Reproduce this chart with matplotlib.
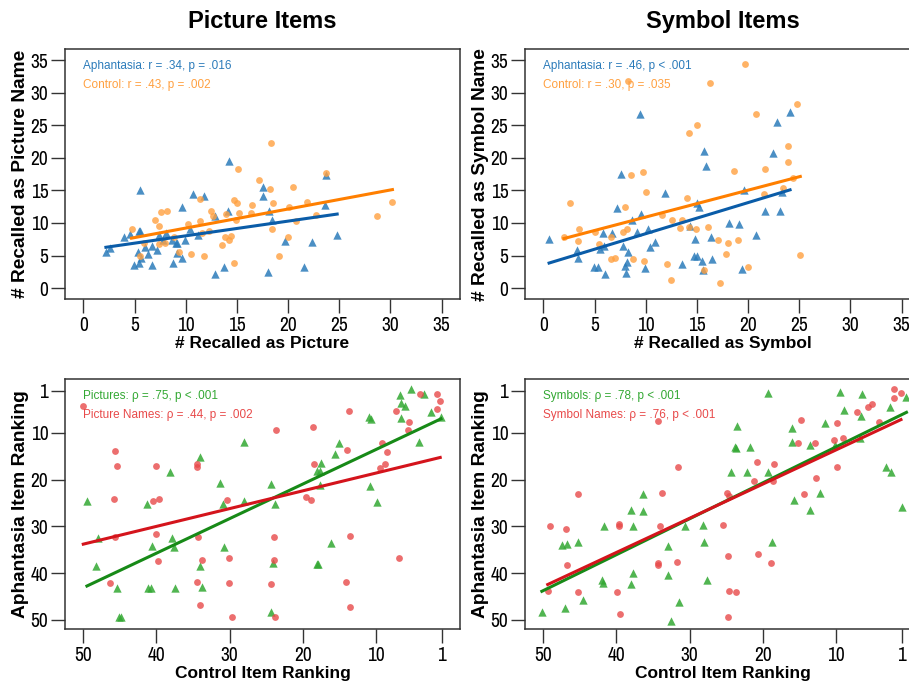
import numpy as np
import matplotlib
matplotlib.use("Agg")
import matplotlib.pyplot as plt
from matplotlib import font_manager

# ---- data ----
# Picture items: recalled as picture (x) vs recalled as picture name (y)
pic_aph_x = [2.2, 2.6, 5.5, 4.0, 4.6, 5.4, 5.5, 5.3, 5.6, 5.4, 4.9, 6.0, 6.3, 6.7, 7.2, 6.7,
             7.4, 8.1, 7.8, 8.7, 9.1, 8.8, 9.1, 9.6, 9.9, 9.6, 10.7, 10.4, 11.2, 11.8, 12.9, 12.9,
             13.7, 14.1, 14.2, 17.6, 17.6, 18.1, 18.4, 18.0, 19.7, 21.6, 22.3, 23.6, 23.7, 24.8, 9.0]
pic_aph_y = [5.6, 6.2, 15.1, 7.8, 8.3, 8.8, 8.7, 5.5, 4.6, 3.9, 3.6, 6.3, 5.2, 6.4, 5.9, 3.5,
             8.1, 8.5, 7.4, 7.4, 6.9, 3.9, 5.4, 4.6, 7.4, 12.4, 14.5, 9.0, 8.2, 14.1, 11.0, 2.2,
             3.2, 11.8, 19.5, 15.6, 14.2, 11.8, 10.5, 2.4, 7.2, 3.2, 7.1, 12.8, 17.3, 8.2, 7.0]
pic_ctl_x = [4.7, 5.5, 5.9, 7.0, 7.4, 7.6, 8.2, 7.4, 8.0, 8.9, 9.3, 10.2, 10.5, 11.4, 11.4, 11.6,
             11.8, 12.3, 12.5, 12.7, 13.5, 13.8, 13.9, 14.2, 14.4, 14.7, 14.7, 15.0, 14.9, 15.1, 15.2, 16.4,
             16.5, 17.2, 18.2, 18.3, 18.5, 18.4, 19.1, 20.0, 20.1, 20.5, 20.8, 21.9, 22.7, 23.7, 28.7, 30.2]
pic_ctl_y = [9.0, 4.9, 6.9, 10.4, 9.5, 11.7, 11.9, 6.7, 6.9, 7.8, 5.5, 9.8, 5.2, 10.3, 13.7, 8.5,
             4.9, 8.7, 11.9, 11.0, 6.6, 7.9, 11.4, 7.4, 8.0, 3.9, 13.6, 13.0, 10.4, 18.3, 11.6, 11.5,
             12.7, 16.6, 15.3, 22.3, 13.1, 9.1, 5.0, 7.8, 12.4, 15.6, 10.3, 13.2, 11.3, 17.7, 11.0, 13.2]

# Symbol items: recalled as symbol (x) vs recalled as symbol name (y)
sym_aph_x = [0.55, 3.3, 3.4, 4.9, 5.3, 6.0, 5.5, 5.8, 5.9, 6.7, 7.2, 7.6, 7.8, 8.0, 8.1, 8.2,
             8.3, 8.7, 9.1, 9.4, 9.5, 9.9, 10.2, 10.4, 10.9, 11.9, 13.5, 14.3, 14.7, 14.8, 15.0, 15.0,
             15.2, 15.5, 15.6, 15.7, 15.9, 16.4, 16.5, 18.1, 19.1, 19.4, 19.6, 20.8, 21.7, 22.4, 22.8, 23.1,
             23.3, 24.1]
sym_aph_y = [7.6, 5.8, 4.6, 3.3, 3.3, 2.1, 6.0, 8.5, 6.4, 8.5, 12.3, 17.5, 6.5, 3.4, 2.3, 4.0,
             5.5, 10.5, 8.6, 26.8, 11.4, 3.1, 9.1, 6.3, 7.1, 14.6, 3.7, 9.5, 4.9, 7.6, 4.9, 13.0,
             12.4, 4.1, 2.7, 21.0, 18.7, 7.8, 4.5, 10.0, 9.8, 3.0, 15.1, 8.2, 11.8, 20.8, 25.5, 11.8,
             14.7, 27.0]
sym_ctl_x = [2.0, 2.6, 3.4, 3.5, 5.0, 5.4, 6.6, 6.6, 7.0, 7.8, 8.0, 8.2, 8.3, 8.6, 8.8, 9.7,
             9.8, 10.0, 11.6, 12.1, 12.5, 12.6, 13.3, 13.5, 14.0, 14.2, 14.2, 14.9, 15.0, 15.7, 16.1, 16.3,
             17.1, 17.3, 17.8, 18.0, 18.6, 19.0, 19.7, 20.0, 20.8, 21.6, 21.7, 23.4, 23.9, 23.9, 24.4, 24.8,
             25.1]
sym_ctl_y = [7.8, 13.1, 7.3, 9.0, 8.6, 6.7, 7.8, 4.5, 4.6, 8.6, 12.5, 9.1, 31.9, 17.3, 4.5, 17.8,
             4.2, 14.7, 11.2, 3.7, 1.2, 10.4, 9.2, 10.5, 13.8, 23.8, 9.4, 9.1, 25.1, 2.8, 9.4, 31.5,
             7.4, 0.8, 5.3, 6.9, 18.0, 7.4, 34.4, 3.3, 26.7, 14.5, 18.3, 15.4, 21.8, 19.3, 16.9, 28.3,
             5.1]

# Ranking panels: control item ranking (x) vs aphantasia item ranking (y)
rk_pic_x = [49.5, 48.0, 48.3, 45.4, 45.1, 44.9, 41.3, 40.6, 41.2, 40.7, 38.2, 37.9, 37.6, 37.5, 34.0, 34.0,
            33.8, 31.3, 30.9, 30.7, 28.0, 28.0, 24.4, 23.8, 24.0, 24.3, 18.1, 17.9, 18.1, 17.6, 17.5, 17.7,
            16.1, 15.6, 15.1, 11.0, 10.6, 10.8, 9.8, 6.7, 6.6, 6.0, 6.6, 5.2, 4.1, 3.4, 2.5, 1.1]
rk_pic_y = [24.6, 32.4, 38.4, 43.1, 49.3, 49.4, 25.3, 34.2, 43.2, 43.2, 18.3, 32.4, 34.3, 43.2, 15.1, 38.4,
            42.9, 20.8, 25.3, 34.3, 12.0, 24.6, 20.9, 25.2, 37.8, 48.2, 38.0, 38.0, 18.1, 18.1, 16.5, 21.2,
            33.6, 14.5, 12.1, 6.6, 7.1, 21.4, 24.7, 1.9, 3.7, 4.3, 6.8, 0.7, 11.9, 1.8, 5.5, 6.6]
rk_pnm_x = [50.0, 46.4, 45.7, 45.4, 45.8, 45.7, 40.4, 39.6, 40.0, 40.1, 39.8, 34.5, 34.4, 34.3, 33.8, 34.5,
            34.1, 30.4, 30.1, 30.1, 29.6, 23.7, 23.9, 23.9, 24.4, 23.8, 19.6, 18.9, 18.6, 18.5, 14.0, 13.7,
            13.5, 14.1, 13.6, 9.1, 8.5, 8.7, 9.4, 7.3, 5.4, 5.6, 6.8, 3.9, 1.7, 1.2, 1.6]
rk_pnm_y = [4.3, 42.2, 13.9, 17.0, 24.1, 32.2, 24.5, 24.2, 17.2, 31.7, 37.3, 16.7, 17.4, 32.3, 37.2, 41.8,
            46.7, 24.4, 36.7, 42.0, 49.3, 9.4, 32.3, 37.2, 42.3, 49.4, 23.8, 24.4, 8.8, 16.7, 13.7, 5.3,
            32.0, 41.9, 47.2, 12.1, 14.0, 16.7, 17.5, 5.3, 7.6, 9.4, 36.8, 1.6, 1.7, 3.3, 4.9]
rk_sym_x = [50.2, 47.0, 47.4, 46.8, 45.2, 44.6, 41.7, 42.0, 41.8, 38.0, 37.7, 37.7, 38.0, 36.4, 36.4, 32.9,
            32.9, 32.5, 31.4, 30.6, 28.2, 28.0, 27.6, 24.3, 23.8, 23.6, 23.5, 22.1, 21.7, 19.3, 19.3, 18.8,
            16.0, 16.0, 15.7, 13.5, 13.5, 12.2, 11.5, 10.1, 9.5, 8.9, 6.4, 6.5, 6.7, 3.2, 2.5, 2.6,
            0.9, 0.35]
rk_sym_y = [48.4, 47.4, 34.0, 33.7, 33.4, 45.8, 30.0, 41.4, 42.2, 26.5, 30.0, 40.0, 42.4, 23.0, 26.8, 34.2,
            40.3, 50.2, 46.2, 30.0, 29.7, 33.4, 41.5, 18.3, 13.0, 13.3, 8.6, 18.3, 13.1, 1.5, 18.3, 33.4,
            9.0, 11.9, 24.4, 12.6, 26.4, 22.8, 8.0, 12.6, 1.2, 5.1, 1.6, 6.4, 11.2, 17.3, 18.3, 4.4,
            25.8, 2.3]
rk_snm_x = [49.4, 49.1, 46.9, 46.8, 45.2, 45.2, 39.9, 39.6, 39.6, 39.5, 34.3, 34.3, 34.3, 34.0, 33.8, 31.6,
            31.7, 25.4, 24.8, 24.9, 24.6, 24.6, 23.6, 24.8, 21.2, 20.8, 20.7, 18.9, 18.5, 18.6, 15.2, 14.8,
            14.4, 12.8, 12.7, 10.3, 9.8, 9.9, 9.0, 7.1, 5.6, 5.0, 4.1, 2.1, 2.1, 1.1]
rk_snm_y = [43.8, 30.0, 30.5, 38.2, 23.1, 44.0, 44.0, 30.0, 29.4, 48.7, 7.5, 38.2, 37.8, 30.0, 22.8, 17.3,
            37.6, 29.7, 36.4, 22.8, 23.4, 43.8, 44.0, 49.3, 20.4, 16.2, 35.8, 37.9, 16.6, 20.2, 12.1, 7.2,
            23.1, 12.1, 19.7, 11.5, 8.0, 17.3, 11.2, 5.6, 4.5, 3.9, 7.7, 0.6, 2.6, 1.4]

stat_labels = {
    "pic": ["Aphantasia: r = .34, p = .016", "Control: r = .43, p = .002"],
    "sym": ["Aphantasia: r = .46, p < .001", "Control: r = .30, p = .035"],
    "rkpic": ["Pictures: \u03c1 = .75, p < .001", "Picture Names: \u03c1 = .44, p = .002"],
    "rksym": ["Symbols: \u03c1 = .78, p < .001", "Symbol Names: \u03c1 = .76, p < .001"],
}

# ---- style ----
names = {f.name for f in font_manager.fontManager.ttflist}
narrow = [n for n in sorted(names) if "Narrow" in n or "Condensed" in n]
NARROW = narrow[0] if narrow else "Liberation Sans"
plt.rcParams["font.family"] = ["Liberation Sans", "DejaVu Sans"]

BLUE_PT, BLUE_LN = "#2b7bba", "#0a5ca8"
ORANGE_PT, ORANGE_LN = "#ffa040", "#ff7f00"
GREEN_PT, GREEN_LN = "#33a833", "#178a17"
RED_PT, RED_LN = "#e84a4a", "#d4141c"
BOX = "#333333"


def style_axes(ax):
    for s in ax.spines.values():
        s.set_color(BOX)
        s.set_linewidth(1.1)
    ax.tick_params(direction="out", length=10, width=1.0, color=BOX,
                   labelsize=14, pad=2)
    for t in ax.get_xticklabels() + ax.get_yticklabels():
        t.set_family([NARROW, "DejaVu Sans"])


def fit_line(ax, x, y, color):
    x = np.asarray(x)
    k, b = np.polyfit(x, y, 1)
    xs = np.array([x.min(), x.max()])
    ax.plot(xs, k * xs + b, color=color, lw=2.2, zorder=4)


def scatter_panel(ax, xa, ya, xb, yb, ca, cb, la, lb, labels):
    ax.scatter(xa, ya, marker="^", s=36, color=ca, alpha=0.85, lw=0, zorder=3)
    ax.scatter(xb, yb, marker="o", s=24, color=cb, alpha=0.8, lw=0, zorder=3)
    fit_line(ax, xa, ya, la)
    fit_line(ax, xb, yb, lb)
    ax.text(0.046, 0.933, labels[0], color=ca, fontsize=8.5, transform=ax.transAxes, va="center")
    ax.text(0.046, 0.857, labels[1], color=cb, fontsize=8.5, transform=ax.transAxes, va="center")


fig = plt.figure(figsize=(9.09, 6.83), dpi=100)
w, h = 0.4345, 0.3665
ax1 = fig.add_axes([0.0715, 0.5618, w, h])
ax2 = fig.add_axes([0.5776, 0.5618, w, h])
ax3 = fig.add_axes([0.0715, 0.0786, w, h])
ax4 = fig.add_axes([0.5776, 0.0786, w, h])

scatter_panel(ax1, pic_aph_x, pic_aph_y, pic_ctl_x, pic_ctl_y,
              BLUE_PT, ORANGE_PT, BLUE_LN, ORANGE_LN, stat_labels["pic"])
scatter_panel(ax2, sym_aph_x, sym_aph_y, sym_ctl_x, sym_ctl_y,
              BLUE_PT, ORANGE_PT, BLUE_LN, ORANGE_LN, stat_labels["sym"])
scatter_panel(ax3, rk_pic_x, rk_pic_y, rk_pnm_x, rk_pnm_y,
              GREEN_PT, RED_PT, GREEN_LN, RED_LN, stat_labels["rkpic"])
scatter_panel(ax4, rk_sym_x, rk_sym_y, rk_snm_x, rk_snm_y,
              GREEN_PT, RED_PT, GREEN_LN, RED_LN, stat_labels["rksym"])

for ax in (ax1, ax2):
    ax.set_xlim(-1.8, 36.8)
    ax.set_ylim(-1.73, 36.75)
    ax.set_xticks(range(0, 36, 5))
    ax.set_yticks(range(0, 36, 5))
for ax in (ax3, ax4):
    ax.set_xlim(52.5, -1.5)
    ax.set_ylim(52, -1.5)
    ax.set_xticks([50, 40, 30, 20, 10, 1])
    ax.set_yticks([1, 10, 20, 30, 40, 50])
for ax in (ax1, ax2, ax3, ax4):
    style_axes(ax)

xlab = dict(fontsize=12.5, fontweight="bold")
ylab = dict(fontsize=13.8, fontweight="bold")
ax1.set_xlabel("# Recalled as Picture", labelpad=1, **xlab)
ax1.set_ylabel("# Recalled as Picture Name", labelpad=1, **ylab)
ax2.set_xlabel("# Recalled as Symbol", labelpad=1, **xlab)
ax2.set_ylabel("# Recalled as Symbol Name", labelpad=1, **ylab)
for ax in (ax3, ax4):
    ax.set_xlabel("Control Item Ranking", labelpad=1, **xlab)
    ax.set_ylabel("Aphantasia Item Ranking", labelpad=1, **ylab)

ax1.set_title("Picture Items", fontsize=17, fontweight="bold", pad=15)
ax2.set_title("Symbol Items", fontsize=17, fontweight="bold", pad=15)

fig.savefig("out.png", dpi=100)
